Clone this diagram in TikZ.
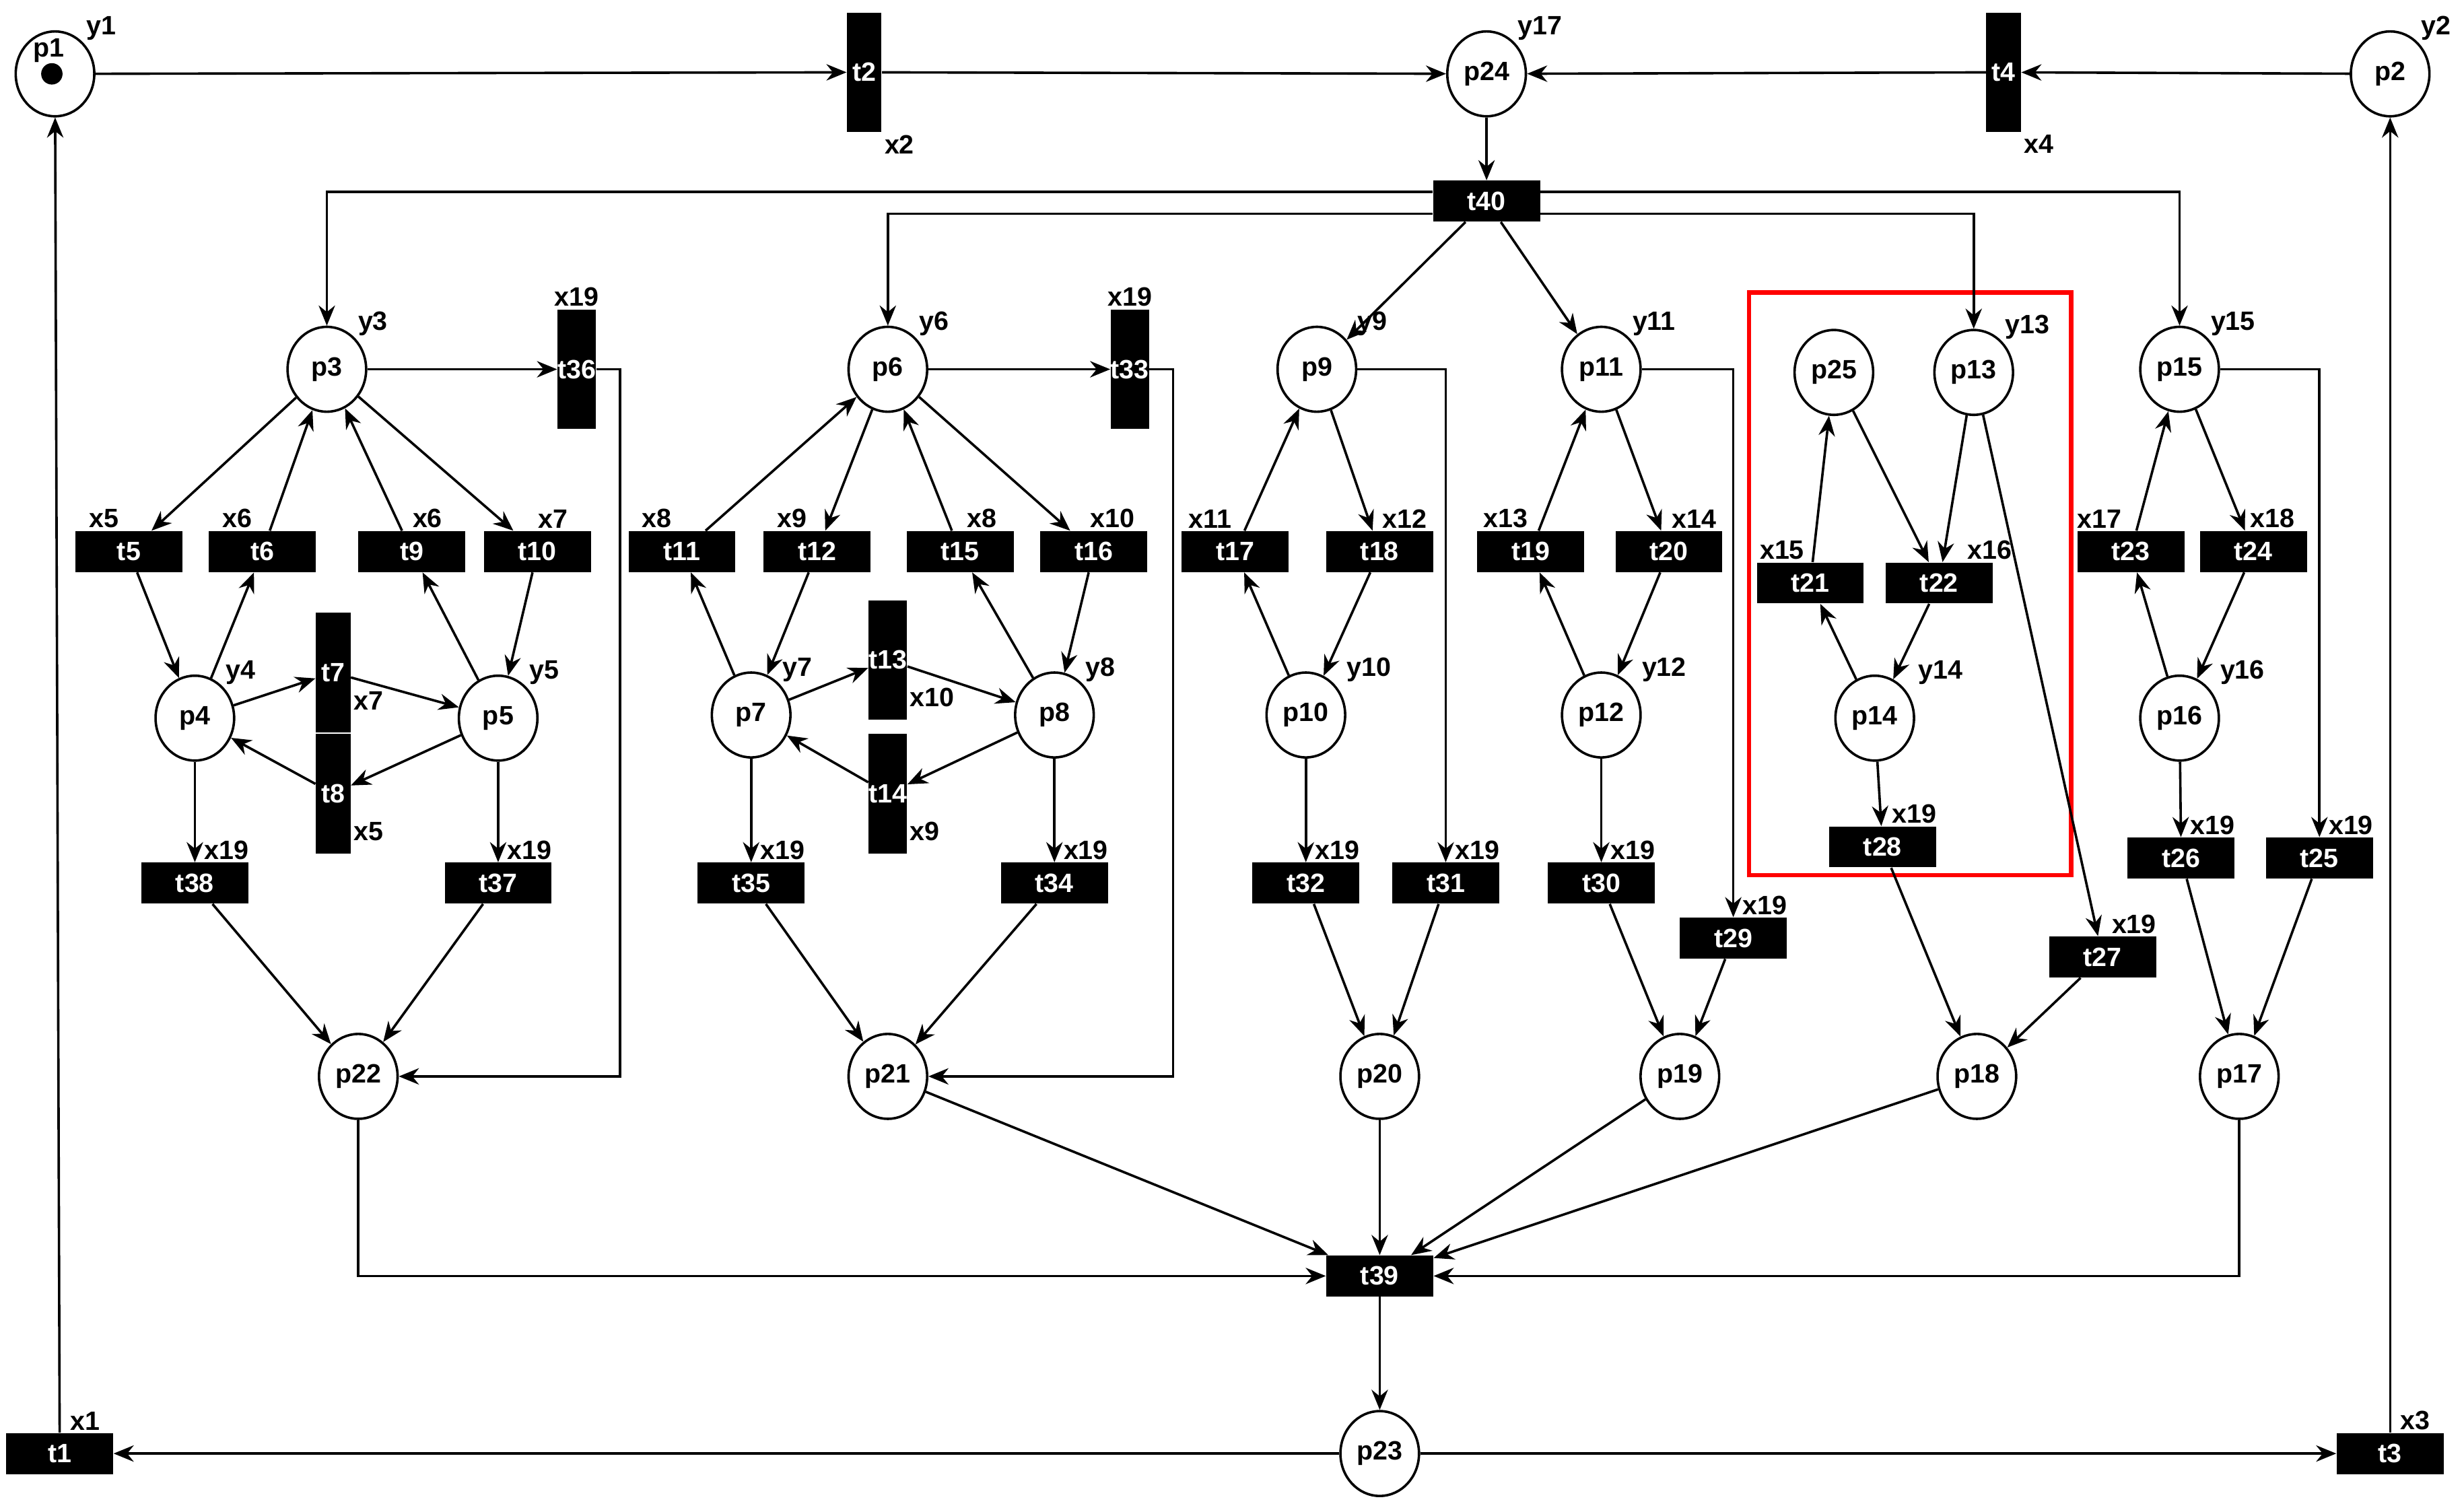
\documentclass[tikz,border=0pt]{standalone}
\usepackage{fontspec}
\setmainfont{Liberation Sans}
\usetikzlibrary{shapes.geometric,arrows.meta}
\tikzset{
  place/.style={ellipse, draw, line width=1.1pt, minimum width=1.25cm, minimum height=1.35cm, inner sep=0pt, font=\bfseries\fontsize{12}{14}\selectfont},
  trans/.style={rectangle, fill=black, text=white, minimum width=1.7cm, minimum height=0.65cm, inner sep=0pt, font=\bfseries\fontsize{12}{14}\selectfont},
  vtrans/.style={rectangle, fill=black, text=white, minimum width=0.55cm, minimum height=1.9cm, inner sep=0pt, font=\bfseries\fontsize{12}{14}\selectfont},
  lab/.style={font=\bfseries\fontsize{12}{14}\selectfont, inner sep=1pt},
  xlab/.style={lab, xshift=0.5cm},
  arr/.style={-{Stealth[length=3.2mm,width=2.6mm]}, line width=1.1pt},
}
\begin{document}
\begin{tikzpicture}[x=0.025cm, y=-0.025cm]
  \useasboundingbox (0,0) rectangle (1568,962);

  % places
  \node[place, label={[lab]north east:y1}] (p1) at (35,47) {};
  \node[lab] (p1name) at (31,32) {p1};
  \fill (p1.center) ++(-2,0) circle (0.17cm);
  \node[place, label={[lab]north east:y17}] (p24) at (946,47) {p24};
  \node[place, label={[lab]north east:y2}] (p2) at (1521,47) {p2};
  \node[place, label={[lab]north east:y3}] (p3) at (208,235) {p3};
  \node[place, label={[lab]north east:y6}] (p6) at (565,235) {p6};
  \node[place, label={[lab,xshift=0.15cm]north east:y9}] (p9) at (838,235) {p9};
  \node[place, label={[lab]north east:y11}] (p11) at (1019,235) {p11};
  \node[place] (p25) at (1167,237) {p25};
  \node[place, label={[lab]north east:y13}] (p13) at (1256,237) {p13};
  \node[place, label={[lab]north east:y15}] (p15) at (1387,235) {p15};
  \node[place, label={[lab]north east:y4}] (p4) at (124,457) {p4};
  \node[place, label={[lab]north east:y5}] (p5) at (317,457) {p5};
  \node[place, label={[lab]north east:y7}] (p7) at (478,455) {p7};
  \node[place, label={[lab]north east:y8}] (p8) at (671,455) {p8};
  \node[place, label={[lab,xshift=0.15cm]north east:y10}] (p10) at (831,455) {p10};
  \node[place, label={[lab,xshift=0.15cm]north east:y12}] (p12) at (1019,455) {p12};
  \node[place, label={[lab,xshift=0.2cm]north east:y14}] (p14) at (1193,457) {p14};
  \node[place, label={[lab,xshift=0.15cm]north east:y16}] (p16) at (1387,457) {p16};
  \node[place] (p22) at (228,685) {p22};
  \node[place] (p21) at (565,685) {p21};
  \node[place] (p20) at (878,685) {p20};
  \node[place] (p19) at (1069,685) {p19};
  \node[place] (p18) at (1258,685) {p18};
  \node[place] (p17) at (1425,685) {p17};
  \node[place] (p23) at (878,925) {p23};

  % transitions
  \node[vtrans, label={[lab]south east:x2}] (t2) at (550,46) {t2};
  \node[vtrans, label={[lab]south east:x4}] (t4) at (1275,46) {t4};
  \node[trans] (t40) at (946,128) {t40};
  \node[vtrans, label={[lab]above:x19}] (t36) at (367,235) {t36};
  \node[vtrans, label={[lab]above:x19}] (t33) at (719,235) {t33};
  \node[trans, label={[lab,xshift=-0.4cm]above:x5}] (t5) at (82,351) {t5};
  \node[trans, label={[lab,xshift=-0.4cm]above:x6}] (t6) at (167,351) {t6};
  \node[trans, label={[lab,xshift=0.25cm]above:x6}] (t9) at (262,351) {t9};
  \node[trans, label={[lab,xshift=0.25cm]above:x7}] (t10) at (342,351) {t10};
  \node[trans, label={[lab,xshift=-0.4cm]above:x8}] (t11) at (434,351) {t11};
  \node[trans, label={[lab,xshift=-0.4cm]above:x9}] (t12) at (520,351) {t12};
  \node[trans, label={[lab,xshift=0.35cm]above:x8}] (t15) at (611,351) {t15};
  \node[trans, label={[lab,xshift=0.3cm]above:x10}] (t16) at (696,351) {t16};
  \node[trans, label={[lab,xshift=-0.4cm]above:x11}] (t17) at (786,351) {t17};
  \node[trans, label={[lab,xshift=0.4cm]above:x12}] (t18) at (878,351) {t18};
  \node[trans, label={[lab,xshift=-0.4cm]above:x13}] (t19) at (974,351) {t19};
  \node[trans, label={[lab,xshift=0.4cm]above:x14}] (t20) at (1062,351) {t20};
  \node[trans, label={[lab,xshift=-0.45cm]above:x15}] (t21) at (1152,371) {t21};
  \node[trans, label={[lab,xshift=0.8cm]above:x16}] (t22) at (1234,371) {t22};
  \node[trans, label={[lab,xshift=-0.5cm]above:x17}] (t23) at (1356,351) {t23};
  \node[trans, label={[lab,xshift=0.3cm]above:x18}] (t24) at (1434,351) {t24};
  \node[vtrans, label={[lab,yshift=-0.45cm]right:x7}] (t7) at (212,428) {t7};
  \node[vtrans, label={[lab,yshift=-0.6cm]right:x5}] (t8) at (212,505) {t8};
  \node[vtrans, label={[lab,yshift=-0.6cm]right:x10}] (t13) at (565,420) {t13};
  \node[vtrans, label={[lab,yshift=-0.6cm]right:x9}] (t14) at (565,505) {t14};
  \node[trans, label={[xlab]above:x19}] (t38) at (124,562) {t38};
  \node[trans, label={[xlab]above:x19}] (t37) at (317,562) {t37};
  \node[trans, label={[xlab]above:x19}] (t35) at (478,562) {t35};
  \node[trans, label={[xlab]above:x19}] (t34) at (671,562) {t34};
  \node[trans, label={[xlab]above:x19}] (t32) at (831,562) {t32};
  \node[trans, label={[xlab]above:x19}] (t31) at (920,562) {t31};
  \node[trans, label={[xlab]above:x19}] (t30) at (1019,562) {t30};
  \node[trans, label={[xlab]above:x19}] (t29) at (1103,597) {t29};
  \node[trans, label={[xlab]above:x19}] (t28) at (1198,539) {t28};
  \node[trans, label={[xlab]above:x19}] (t27) at (1338,609) {t27};
  \node[trans, label={[xlab]above:x19}] (t26) at (1388,546) {t26};
  \node[trans, label={[xlab]above:x19}] (t25) at (1476,546) {t25};
  \node[trans] (t39) at (878,812) {t39};
  \node[trans, label={[lab,xshift=0.4cm]above:x1}] (t1) at (38,925) {t1};
  \node[trans, label={[lab,xshift=0.4cm]above:x3}] (t3) at (1521,925) {t3};

  % red frame
  \node[draw=red, line width=2pt, minimum width=5.12cm, minimum height=9.27cm] (frame) at (1215.5,371.5) {};

  % top row
  \draw[arr] (p1) -- (t2);
  \draw[arr] (t2) -- (p24);
  \draw[arr] (p2) -- (t4);
  \draw[arr] (t4) -- (p24);
  \draw[arr] (p24) -- (t40);
  \draw[arr] ([yshift=0.15cm]t40.west) -| (p3);
  \draw[arr] ([yshift=-0.2cm]t40.west) -| (p6);
  \draw[arr] (t40) -- (p9);
  \draw[arr] (t40) -- (p11);
  \draw[arr] ([yshift=-0.2cm]t40.east) -| (p13);
  \draw[arr] ([yshift=0.15cm]t40.east) -| (p15);

  % p3 block
  \draw[arr] (p3) -- (t36);
  \draw[arr] (t36.east) -- ++(15,0) |- (p22);
  \draw[arr] (p3) -- (t5);
  \draw[arr] (t6) -- (p3);
  \draw[arr] (t9) -- (p3);
  \draw[arr] (p3) -- (t10);
  \draw[arr] (t5) -- (p4);
  \draw[arr] (p4) -- (t6);
  \draw[arr] (p5) -- (t9);
  \draw[arr] (t10) -- (p5);
  \draw[arr] (p4) -- (t7);
  \draw[arr] (t7) -- (p5);
  \draw[arr] (p5) -- (t8);
  \draw[arr] (t8) -- (p4);
  \draw[arr] (p4) -- (t38);
  \draw[arr] (p5) -- (t37);
  \draw[arr] (t38) -- (p22);
  \draw[arr] (t37) -- (p22);

  % p6 block
  \draw[arr] (p6) -- (t33);
  \draw[arr] (t33.east) -- ++(15,0) |- (p21);
  \draw[arr] (t11) -- (p6);
  \draw[arr] (p6) -- (t12);
  \draw[arr] (t15) -- (p6);
  \draw[arr] (p6) -- (t16);
  \draw[arr] (p7) -- (t11);
  \draw[arr] (t12) -- (p7);
  \draw[arr] (p8) -- (t15);
  \draw[arr] (t16) -- (p8);
  \draw[arr] (p7) -- (t13);
  \draw[arr] (t13) -- (p8);
  \draw[arr] (p8) -- (t14);
  \draw[arr] (t14) -- (p7);
  \draw[arr] (p7) -- (t35);
  \draw[arr] (p8) -- (t34);
  \draw[arr] (t35) -- (p21);
  \draw[arr] (t34) -- (p21);

  % p9 and p11 blocks
  \draw[arr] (t17) -- (p9);
  \draw[arr] (p9) -- (t18);
  \draw[arr] (p10) -- (t17);
  \draw[arr] (t18) -- (p10);
  \draw[arr] (p10) -- (t32);
  \draw[arr] (t32) -- (p20);
  \draw[arr] (p9.east) -| (t31);
  \draw[arr] (t31) -- (p20);
  \draw[arr] (t19) -- (p11);
  \draw[arr] (p11) -- (t20);
  \draw[arr] (p12) -- (t19);
  \draw[arr] (t20) -- (p12);
  \draw[arr] (p12) -- (t30);
  \draw[arr] (t30) -- (p19);
  \draw[arr] (p11.east) -| (t29);
  \draw[arr] (t29) -- (p19);

  % framed block
  \draw[arr] (t21) -- (p25);
  \draw[arr] (p25) -- (t22);
  \draw[arr] (p13) -- (t22);
  \draw[arr] (t22) -- (p14);
  \draw[arr] (p14) -- (t21);
  \draw[arr] (p14) -- (t28);
  \draw[arr] (t28) -- (p18);
  \draw[arr] (p13) -- (t27);
  \draw[arr] (t27) -- (p18);

  % p15 block
  \draw[arr] (t23) -- (p15);
  \draw[arr] (p15) -- (t24);
  \draw[arr] (p16) -- (t23);
  \draw[arr] (t24) -- (p16);
  \draw[arr] (p16) -- (t26);
  \draw[arr] (p15.east) -| (t25);
  \draw[arr] (t26) -- (p17);
  \draw[arr] (t25) -- (p17);

  % bottom
  \draw[arr] (p22) |- (t39.west);
  \draw[arr] (p21) -- (t39);
  \draw[arr] (p20) -- (t39);
  \draw[arr] (p19) -- (t39);
  \draw[arr] (p18) -- (t39);
  \draw[arr] (p17) |- (t39.east);
  \draw[arr] (t39) -- (p23);
  \draw[arr] (p23) -- (t1);
  \draw[arr] (p23) -- (t3);
  \draw[arr] (t1) -- (p1);
  \draw[arr] (t3) -- (p2);
\end{tikzpicture}
\end{document}
